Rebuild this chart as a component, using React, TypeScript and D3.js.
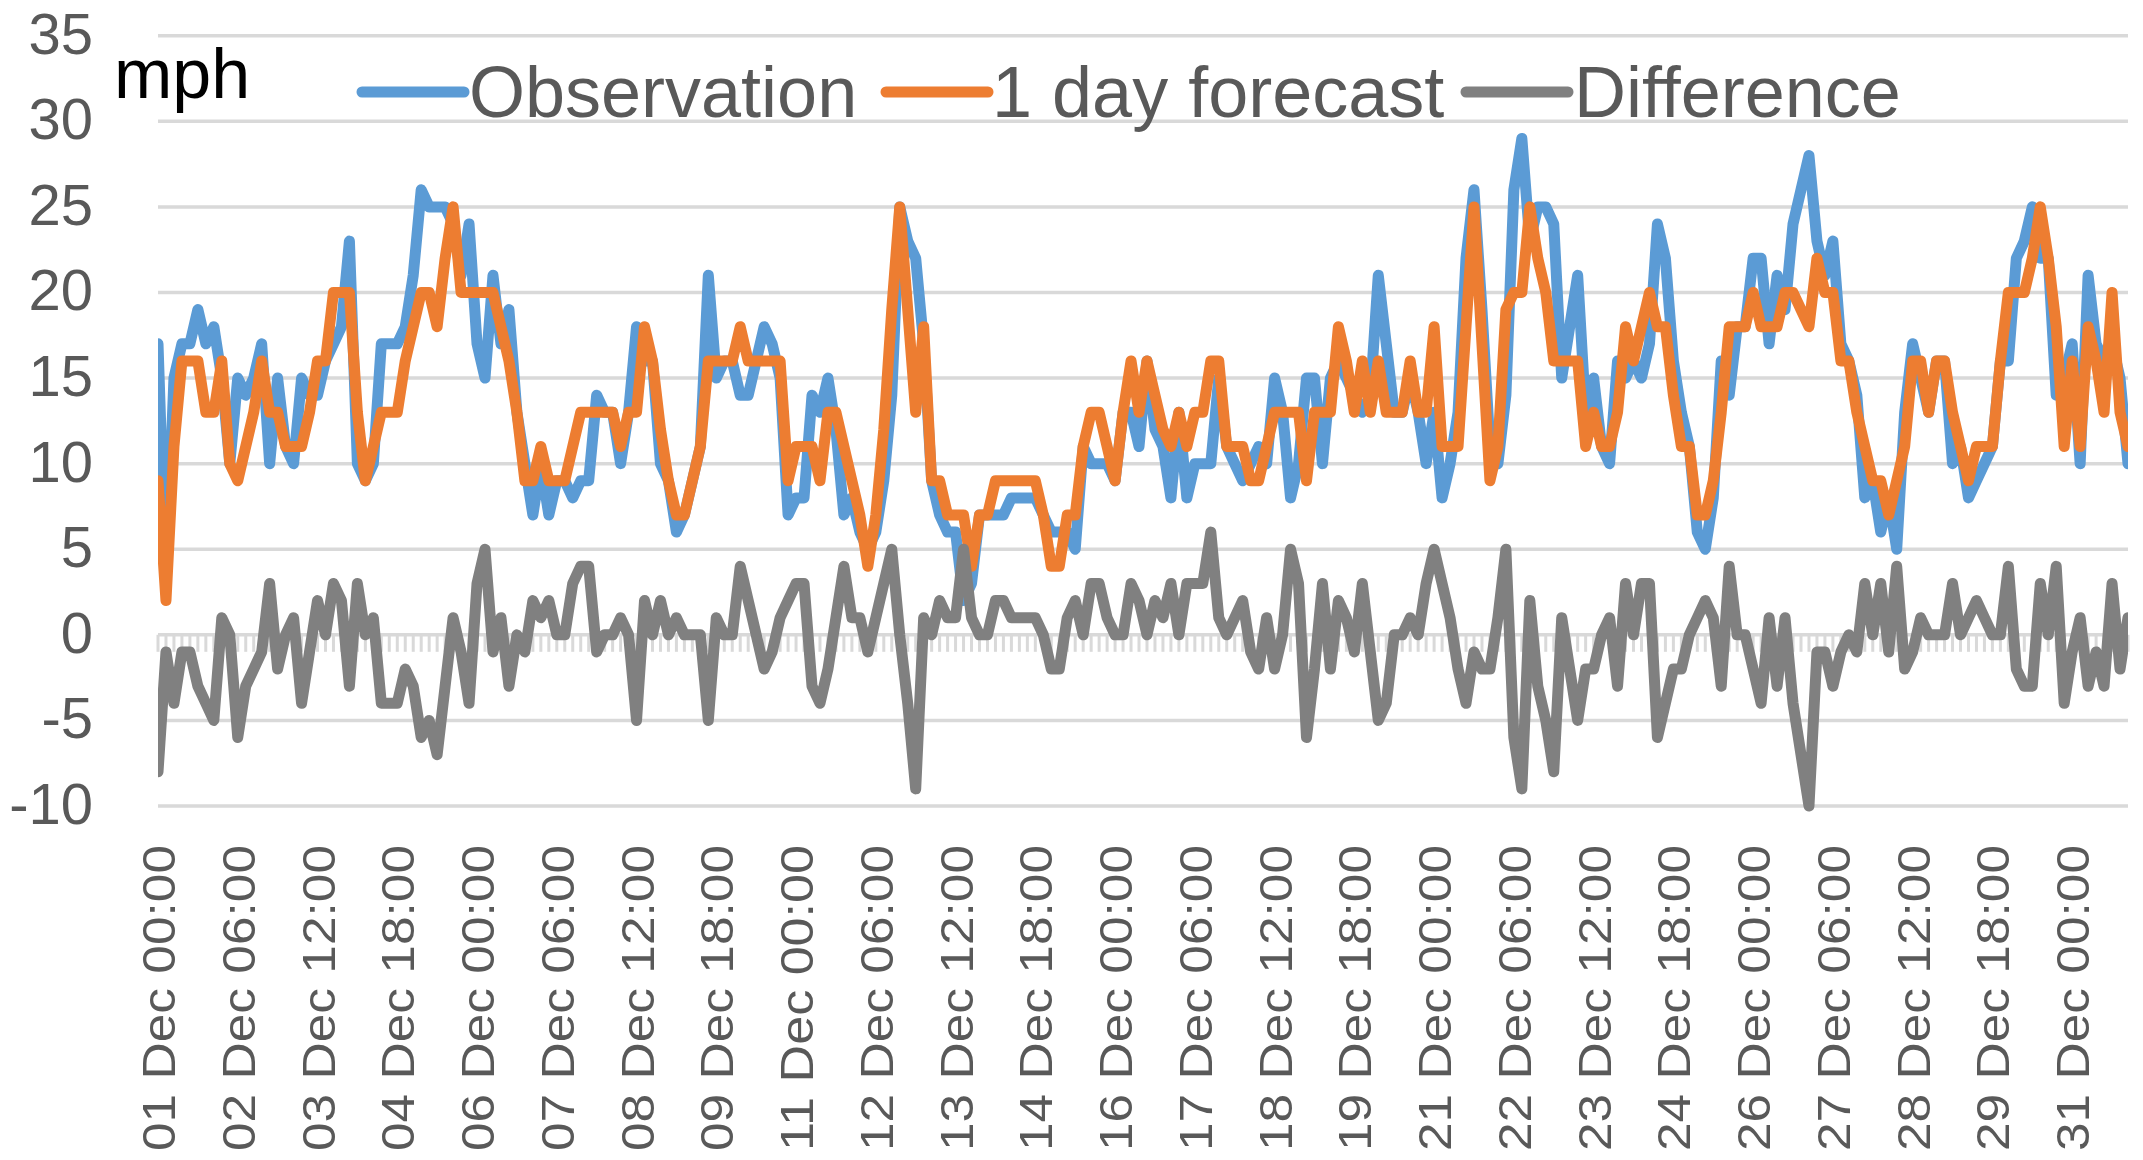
import React from 'react';
import * as d3 from 'd3';

// ---- data (mph, 3-hourly, 01 Dec 00:00 .. 31 Dec 21:00) ----
const observation: number[] = [
  17, 3, 15, 17, 17, 19, 17, 18, 15, 10, 15, 14, 15, 17, 10, 15, 11, 10, 15, 14,
  14, 16, 17, 18, 23, 10, 9, 10, 17, 17, 17, 18, 21, 26, 25, 25, 25, 24, 21, 24,
  17, 15, 21, 17, 19, 13, 10, 7, 10, 7, 9, 9, 8, 9, 9, 14, 13, 13, 10, 13,
  18, 16, 16, 10, 9, 6, 7, 9, 11, 21, 15, 16, 16, 14, 14, 16, 18, 17, 15, 7,
  8, 8, 14, 13, 15, 12, 7, 8, 6, 5, 6, 9, 14, 25, 23, 22, 17, 9, 7, 6,
  6, 2, 3, 7, 7, 7, 7, 8, 8, 8, 8, 7, 6, 6, 6, 5, 11, 10, 10, 10,
  9, 13, 13, 11, 16, 12, 11, 8, 13, 8, 10, 10, 10, 15, 11, 10, 9, 10, 11, 10,
  15, 13, 8, 10, 15, 15, 10, 15, 16, 15, 14, 13, 14, 21, 17, 13, 13, 15, 13, 10,
  13, 8, 10, 13, 22, 26, 19, 11, 10, 14, 26, 29, 23, 25, 25, 24, 15, 18, 21, 13,
  15, 11, 10, 16, 15, 16, 15, 17, 24, 22, 16, 13, 11, 6, 5, 8, 16, 14, 18, 18,
  22, 22, 17, 21, 19, 24, 26, 28, 23, 21, 23, 17, 16, 14, 8, 9, 6, 8, 5, 13,
  17, 15, 13, 16, 16, 10, 11, 8, 9, 10, 11, 16, 16, 22, 23, 25, 22, 22, 14, 15,
  17, 10, 21, 17, 16, 17, 15, 10,
];
const forecast: number[] = [
  9, 2, 11, 16, 16, 16, 13, 13, 16, 10, 9, 11, 13, 16, 13, 13, 11, 11, 11, 13,
  16, 16, 20, 20, 20, 13, 9, 11, 13, 13, 13, 16, 18, 20, 20, 18, 22, 25, 20, 20,
  20, 20, 20, 18, 16, 13, 9, 9, 11, 9, 9, 9, 11, 13, 13, 13, 13, 13, 11, 13,
  13, 18, 16, 12, 9, 7, 7, 9, 11, 16, 16, 16, 16, 18, 16, 16, 16, 16, 16, 9,
  11, 11, 11, 9, 13, 13, 11, 9, 7, 4, 7, 12, 19, 25, 19, 13, 18, 9, 9, 7,
  7, 7, 4, 7, 7, 9, 9, 9, 9, 9, 9, 7, 4, 4, 7, 7, 11, 13, 13, 11,
  9, 13, 16, 13, 16, 14, 12, 11, 13, 11, 13, 13, 16, 16, 11, 11, 11, 9, 9, 11,
  13, 13, 13, 13, 9, 13, 13, 13, 18, 16, 13, 16, 13, 16, 13, 13, 13, 16, 13, 13,
  18, 11, 11, 11, 18, 25, 17, 9, 11, 19, 20, 20, 25, 22, 20, 16, 16, 16, 16, 11,
  13, 11, 11, 13, 18, 16, 18, 20, 18, 18, 14, 11, 11, 7, 7, 9, 13, 18, 18, 18,
  20, 18, 18, 18, 20, 20, 19, 18, 22, 20, 20, 16, 16, 13, 11, 9, 9, 7, 9, 11,
  16, 16, 13, 16, 16, 13, 11, 9, 11, 11, 11, 16, 20, 20, 20, 22, 25, 22, 18, 11,
  16, 11, 18, 16, 13, 20, 13, 11,
];
const difference: number[] = [
  -8, -1, -4, -1, -1, -3, -4, -5, 1, 0, -6, -3, -2, -1, 3, -2, 0, 1, -4, -1,
  2, 0, 3, 2, -3, 3, 0, 1, -4, -4, -4, -2, -3, -6, -5, -7, -3, 1, -1, -4,
  3, 5, -1, 1, -3, 0, -1, 2, 1, 2, 0, 0, 3, 4, 4, -1, 0, 0, 1, 0,
  -5, 2, 0, 2, 0, 1, 0, 0, 0, -5, 1, 0, 0, 4, 2, 0, -2, -1, 1, 2,
  3, 3, -3, -4, -2, 1, 4, 1, 1, -1, 1, 3, 5, 0, -4, -9, 1, 0, 2, 1,
  1, 5, 1, 0, 0, 2, 2, 1, 1, 1, 1, 0, -2, -2, 1, 2, 0, 3, 3, 1,
  0, 0, 3, 2, 0, 2, 1, 3, 0, 3, 3, 3, 6, 1, 0, 1, 2, -1, -2, 1,
  -2, 0, 5, 3, -6, -2, 3, -2, 2, 1, -1, 3, -1, -5, -4, 0, 0, 1, 0, 3,
  5, 3, 1, -2, -4, -1, -2, -2, 1, 5, -6, -9, 2, -3, -5, -8, 1, -2, -5, -2,
  -2, 0, 1, -3, 3, 0, 3, 3, -6, -4, -2, -2, 0, 1, 2, 1, -3, 4, 0, 0,
  -2, -4, 1, -3, 1, -4, -7, -10, -1, -1, -3, -1, 0, -1, 3, 0, 3, -1, 4, -2,
  -1, 1, 0, 0, 0, 3, 0, 1, 2, 1, 0, 0, 4, -2, -3, -3, 3, 0, 4, -4,
  -1, 1, -3, -1, -3, 3, -2, 1,
];
const tickLabels: string[] = [
  '01 Dec 00:00', '02 Dec 06:00', '03 Dec 12:00', '04 Dec 18:00', '06 Dec 00:00',
  '07 Dec 06:00', '08 Dec 12:00', '09 Dec 18:00', '11 Dec 00:00', '12 Dec 06:00',
  '13 Dec 12:00', '14 Dec 18:00', '16 Dec 00:00', '17 Dec 06:00', '18 Dec 12:00',
  '19 Dec 18:00', '21 Dec 00:00', '22 Dec 06:00', '23 Dec 12:00', '24 Dec 18:00',
  '26 Dec 00:00', '27 Dec 06:00', '28 Dec 12:00', '29 Dec 18:00', '31 Dec 00:00',
];
const yTicks: number[] = [-10, -5, 0, 5, 10, 15, 20, 25, 30, 35];
const seriesNames: string[] = ['Observation', '1 day forecast', 'Difference'];
const seriesColors: string[] = ['#5B9BD5', '#ED7D31', '#808080'];

const W = 2143;
const H = 1160;
const FONT = '"Liberation Sans", Arial, sans-serif';

export default function App() {
  const n = observation.length;
  const x = d3.scaleLinear().domain([0, n - 1]).range([158, 2128]);
  const y = d3.scaleLinear().domain([-10, 35]).range([806, 35.7]);
  const line = d3
    .line<number>()
    .x((_, i) => x(i))
    .y((d) => y(d));
  const series = [observation, forecast, difference];
  const labelEvery = 10;
  const legendItems = [
    { lx: 362, tx: 469 },
    { lx: 886, tx: 992 },
    { lx: 1466, tx: 1574 },
  ];

  return (
    <svg
      width={W}
      height={H}
      style={{ position: 'absolute', left: 0, top: 0, background: '#fff' }}
      fontFamily={FONT}
    >
      <rect x={0} y={0} width={W} height={H} fill="#fff" />
      {/* gridlines */}
      {yTicks
        .filter((t) => t !== 0)
        .map((t) => (
          <line key={t} x1={158} x2={2128} y1={y(t)} y2={y(t)} stroke="#d9d9d9" strokeWidth={3.5} />
        ))}
      {/* category axis at zero with tick marks */}
      <line x1={158} x2={2128} y1={y(0)} y2={y(0)} stroke="#d9d9d9" strokeWidth={3.5} />
      {observation.map((_, i) => (
        <line key={'tk' + i} x1={x(i)} x2={x(i)} y1={y(0)} y2={y(0) + 17} stroke="#d9d9d9" strokeWidth={3} />
      ))}
      {/* y tick labels */}
      {yTicks.map((t) => (
        <text key={'yl' + t} x={93} y={y(t) + 18} textAnchor="end" fontSize={58} fill="#595959">
          {t}
        </text>
      ))}
      {/* x tick labels */}
      {tickLabels.map((lab, k) => (
        <text
          key={'xl' + k}
          transform={`translate(${x(k * labelEvery) + 17},845) rotate(-90)`}
          textAnchor="end"
          fontSize={47}
          fill="#595959"
          textLength={306}
          lengthAdjust="spacingAndGlyphs"
        >
          {lab}
        </text>
      ))}
      {/* series */}
      <defs>
        <clipPath id="plotclip">
          <rect x={158} y={0} width={1970} height={H} />
        </clipPath>
      </defs>
      <g clipPath="url(#plotclip)">
        {series.map((s, k) => (
          <path
            key={'s' + k}
            d={line(s) || ''}
            fill="none"
            stroke={seriesColors[k]}
            strokeWidth={11}
            strokeLinejoin="round"
            strokeLinecap="round"
          />
        ))}
      </g>
      {/* unit */}
      <text x={114} y={98} fontSize={70} fill="#000">mph</text>
      {/* legend */}
      {legendItems.map((it, k) => (
        <g key={'lg' + k}>
          <line x1={it.lx} x2={it.lx + 102} y1={92} y2={92} stroke={seriesColors[k]} strokeWidth={11} strokeLinecap="round" />
          <text x={it.tx} y={117} fontSize={72} fill="#595959">{seriesNames[k]}</text>
        </g>
      ))}
    </svg>
  );
}
